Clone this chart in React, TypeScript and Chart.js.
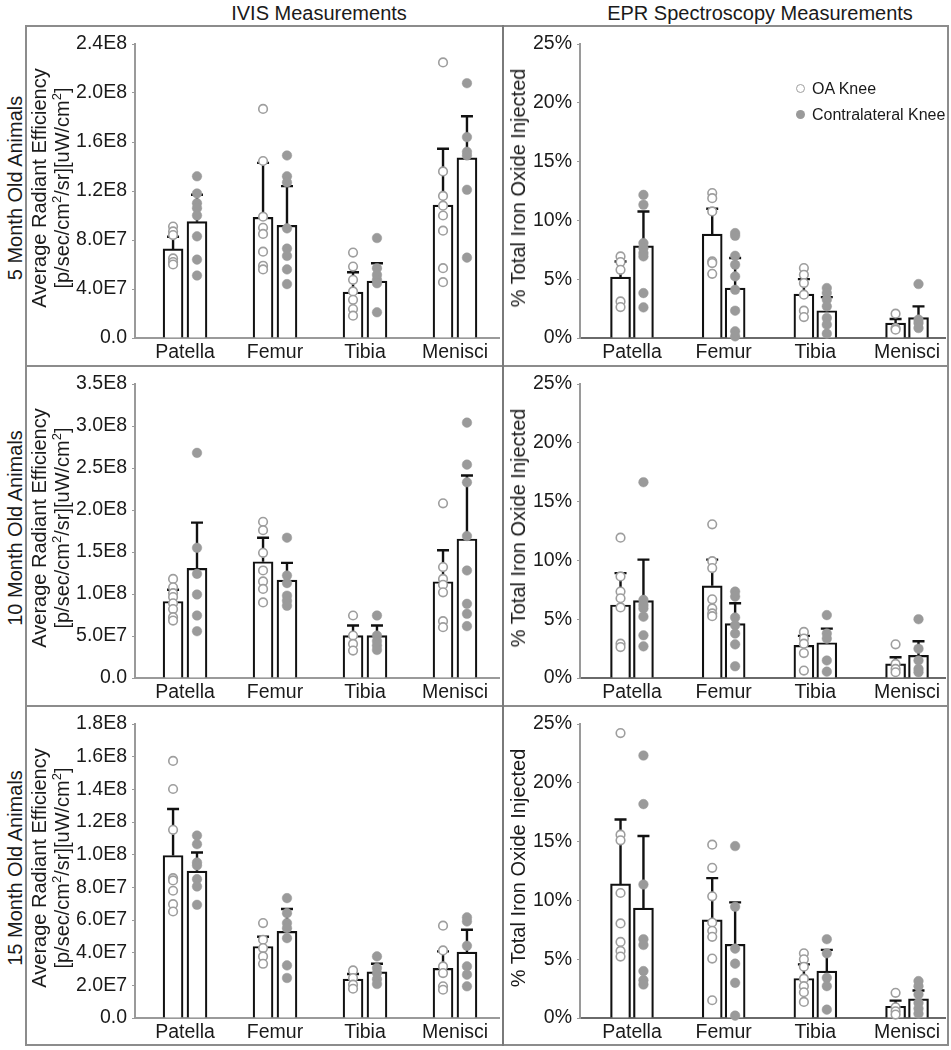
import React, { useEffect, useRef } from "react";
import { Chart, registerables } from "chart.js";
Chart.register(...registerables);

const categories = ["Patella", "Femur", "Tibia", "Menisci"];
const rowLabels = ["5 Month Old Animals", "10 Month Old Animals", "15 Month Old Animals"];
const columnTitles = ["IVIS Measurements", "EPR Spectroscopy Measurements"];
const legendLabels = ["OA Knee", "Contralateral Knee"];

// y axis ranges (IVIS rows) and EPR axis
const ivisMax = [2.4e8, 3.5e8, 1.8e8];
const ivisStep = [4e7, 5e7, 2e7];
const eprMax = 25;
const eprStep = 5;

// ---- 5 month IVIS ----
const ivis5OaMean = [7.27e7, 9.85e7, 3.75e7, 1.085e8];
const ivis5OaSd = [1.0e7, 4.45e7, 1.62e7, 4.6e7];
const ivis5CtMean = [9.5e7, 9.2e7, 4.65e7, 1.47e8];
const ivis5CtSd = [2.2e7, 3.2e7, 1.45e7, 3.4e7];
const ivis5OaPts = [
  [9.1e7, 8.7e7, 8.4e7, 6.5e7, 6.2e7, 6.0e7],
  [1.87e8, 1.445e8, 9.9e7, 9.0e7, 8.5e7, 7.05e7, 5.9e7, 5.6e7],
  [6.97e7, 5.83e7, 4.75e7, 3.8e7, 3.12e7, 2.36e7, 1.82e7],
  [2.25e8, 1.36e8, 1.16e8, 1.08e8, 1.0e8, 8.76e7, 5.7e7, 4.56e7],
];
const ivis5CtPts = [
  [1.32e8, 1.18e8, 1.1e8, 1.06e8, 1.0e8, 8.3e7, 6.4e7, 5.1e7],
  [1.49e8, 1.32e8, 1.27e8, 8.95e7, 7.3e7, 6.7e7, 5.6e7, 4.4e7],
  [8.16e7, 5.7e7, 5.15e7, 4.75e7, 4.47e7, 2.1e7],
  [2.08e8, 1.64e8, 1.52e8, 1.49e8, 1.21e8, 6.56e7],
];

// ---- 5 month EPR (%) ----
const epr5OaMean = [5.18, 8.83, 3.74, 1.27];
const epr5OaSd = [1.33, 2.16, 1.27, 0.34];
const epr5CtMean = [7.84, 4.25, 2.32, 1.73];
const epr5CtSd = [2.92, 2.55, 1.16, 0.96];
const epr5OaPts = [
  [6.94, 6.46, 5.8, 3.11, 2.63],
  [12.32, 11.89, 10.76, 6.51, 6.37, 5.46],
  [5.95, 5.38, 4.67, 3.68, 2.32, 1.78],
  [2.07, 0.85, 0.71],
];
const epr5CtPts = [
  [12.17, 11.33, 8.07, 7.64, 7.22, 6.94, 3.82, 2.6],
  [8.92, 8.69, 6.99, 6.23, 5.24, 4.1, 2.32, 0.57, 0.14],
  [4.25, 3.82, 3.26, 2.69, 1.7, 1.13, 0.37],
  [4.59, 1.56, 1.27, 0.85],
];

// ---- 10 month IVIS ----
const ivis10OaMean = [9.11e7, 1.384e8, 5.05e7, 1.146e8];
const ivis10OaSd = [1.39e7, 2.86e7, 1.2e7, 3.74e7];
const ivis10CtMean = [1.305e8, 1.165e8, 5.05e7, 1.655e8];
const ivis10CtSd = [5.45e7, 2.05e7, 1.2e7, 7.55e7];
const ivis10OaPts = [
  [1.18e8, 1.08e8, 1.01e8, 9.63e7, 8.9e7, 8.2e7, 7.24e7, 6.84e7],
  [1.86e8, 1.76e8, 1.49e8, 1.28e8, 1.15e8, 1.06e8, 9.0e7],
  [7.44e7, 5.05e7, 4.06e7, 3.26e7],
  [2.08e8, 1.32e8, 1.18e8, 1.11e8, 1.02e8, 6.76e7, 6.05e7],
];
const ivis10CtPts = [
  [2.68e8, 1.55e8, 1.24e8, 9.94e7, 7.44e7, 5.57e7],
  [1.67e8, 1.22e8, 1.13e8, 9.8e7, 9.2e7, 8.6e7],
  [7.44e7, 5.05e7, 4.4e7, 3.86e7, 3.34e7],
  [3.04e8, 2.54e8, 2.33e8, 1.69e8, 1.28e8, 8.83e7, 7.64e7, 6.17e7],
];

// ---- 10 month EPR (%) ----
const epr10OaMean = [6.21, 7.84, 2.77, 1.2];
const epr10OaSd = [2.71, 2.23, 0.81, 0.57];
const epr10CtMean = [6.58, 4.63, 3.0, 1.92];
const epr10CtSd = [3.49, 1.72, 1.2, 1.2];
const epr10OaPts = [
  [11.93, 8.64, 7.35, 6.78, 6.0, 2.92, 2.63],
  [13.07, 9.93, 9.35, 6.69, 5.92, 5.49, 5.26],
  [3.92, 3.35, 2.92, 2.12, 0.63],
  [2.86, 1.2, 0.77, 0.49],
];
const epr10CtPts = [
  [16.65, 6.64, 6.21, 5.92, 5.21, 3.63, 2.69],
  [7.35, 6.92, 5.15, 4.49, 3.78, 2.86, 1.0],
  [5.35, 3.78, 3.35, 1.49, 0.54],
  [5.0, 2.49, 1.49, 0.77, 0.49],
];

// ---- 15 month IVIS ----
const ivis15OaMean = [9.95e7, 4.38e7, 2.38e7, 3.04e7];
const ivis15OaSd = [2.85e7, 5.9e6, 3.1e6, 1.04e7];
const ivis15CtMean = [8.99e7, 5.3e7, 2.83e7, 4.04e7];
const ivis15CtSd = [1.14e7, 1.37e7, 4.9e6, 1.36e7];
const ivis15OaPts = [
  [1.574e8, 1.402e8, 1.152e8, 8.56e7, 8.42e7, 7.79e7, 6.97e7, 6.52e7],
  [5.81e7, 4.79e7, 4.28e7, 3.77e7, 3.32e7],
  [2.91e7, 2.45e7, 2.04e7, 1.79e7],
  [5.65e7, 4.14e7, 3.16e7, 2.75e7, 1.94e7, 1.73e7],
];
const ivis15CtPts = [
  [1.117e8, 1.064e8, 9.52e7, 9.34e7, 8.5e7, 8.05e7, 6.93e7],
  [7.34e7, 6.42e7, 5.81e7, 5.5e7, 4.89e7, 3.22e7, 2.45e7],
  [3.77e7, 3.06e7, 2.75e7, 2.38e7, 2.08e7],
  [6.16e7, 5.91e7, 4.42e7, 3.16e7, 2.65e7, 1.94e7],
];

// ---- 15 month EPR (%) ----
const epr15OaMean = [11.4, 8.35, 3.36, 1.0];
const epr15OaSd = [5.48, 3.54, 1.2, 0.48];
const epr15CtMean = [9.35, 6.27, 3.99, 1.62];
const epr15CtSd = [6.13, 3.56, 1.8, 0.72];
const epr15OaPts = [
  [24.23, 15.59, 15.11, 10.63, 8.04, 6.47, 5.7, 5.22],
  [14.74, 12.77, 10.35, 8.12, 7.41, 6.9, 5.05, 1.51],
  [5.5, 4.99, 4.36, 3.34, 2.71, 2.19, 1.37],
  [2.14, 0.91, 0.57, 0.29],
];
const epr15CtPts = [
  [22.32, 18.19, 11.35, 6.7, 6.21, 3.99, 3.22, 2.85],
  [14.62, 9.46, 5.9, 4.62, 2.99, 0.2],
  [6.7, 5.5, 3.42, 2.71, 0.71],
  [3.14, 2.71, 2.0, 1.28, 0.8, 0.37],
];

const FONT = '"Liberation Sans", Arial, sans-serif';
const TEXT = "#1a1a1a";
const FRAME = "#8c8c8c";

const fmtSci = (v: number) => {
  if (Math.abs(v) < 1e-6) return "0.0";
  const e = Math.floor(Math.log10(v) + 1e-9);
  const m = v / Math.pow(10, e);
  return m.toFixed(1) + "E" + e;
};
const fmtPct = (v: number) => Math.round(v) + "%";

const errorBarPlugin = {
  id: "errbars",
  afterDatasetDraw(chart: any, args: any) {
    const ds = chart.data.datasets[args.index];
    if (!ds.errs) return;
    const ctx = chart.ctx;
    const ys = chart.scales.y;
    ctx.save();
    ctx.strokeStyle = "#111";
    ctx.lineWidth = 2.4;
    args.meta.data.forEach((el: any, i: number) => {
      const v = ds.data[i].y;
      const e = ds.errs[i];
      const x = el.x;
      const y0 = ys.getPixelForValue(v);
      const y1 = ys.getPixelForValue(v + e);
      ctx.beginPath();
      ctx.moveTo(x, y0);
      ctx.lineTo(x, y1);
      ctx.moveTo(x - 6, y1);
      ctx.lineTo(x + 6, y1);
      ctx.stroke();
    });
    ctx.restore();
  },
};

type PanelProps = {
  left: number;
  top: number;
  width: number;
  oaMean: number[];
  oaSd: number[];
  ctMean: number[];
  ctSd: number[];
  oaPts: number[][];
  ctPts: number[][];
  yMax: number;
  yStep: number;
  fmt: (v: number) => string;
  yAxisWidth: number;
  xMin: number;
  xMax: number;
  padRight: number;
  pairOffset: number;
  xAxisColor: string;
};

function Panel(p: PanelProps) {
  const ref = useRef<HTMLCanvasElement>(null);
  useEffect(() => {
    const bars = (means: number[], sign: number) =>
      means.map((m, i) => ({ x: i + sign * p.pairOffset, y: m }));
    const pts = (groups: number[][], sign: number) =>
      groups.flatMap((g, i) => g.map((v) => ({ x: i + sign * p.pairOffset, y: v })));
    const chart = new Chart(ref.current as HTMLCanvasElement, {
      type: "bar",
      data: {
        datasets: [
          {
            type: "scatter",
            data: pts(p.oaPts, -1),
            pointRadius: 4.3,
            pointBackgroundColor: "#ffffff",
            pointBorderColor: "#9e9e9e",
            pointBorderWidth: 1.6,
            order: 0,
            clip: false,
          } as any,
          {
            type: "scatter",
            data: pts(p.ctPts, 1),
            pointRadius: 4.8,
            pointBackgroundColor: "#9a9a9a",
            pointBorderColor: "#9a9a9a",
            pointBorderWidth: 0.5,
            order: 0,
            clip: false,
          } as any,
          {
            type: "bar",
            data: bars(p.oaMean, -1),
            errs: p.oaSd,
            backgroundColor: "#ffffff",
            borderColor: "#111111",
            borderWidth: 2.2,
            barThickness: 20,
            grouped: false,
            order: 1,
          } as any,
          {
            type: "bar",
            data: bars(p.ctMean, 1),
            errs: p.ctSd,
            backgroundColor: "#ffffff",
            borderColor: "#111111",
            borderWidth: 2.2,
            barThickness: 20,
            grouped: false,
            order: 1,
          } as any,
        ],
      },
      options: {
        animation: false,
        responsive: false,
        maintainAspectRatio: false,
        layout: { padding: { top: 18, right: p.padRight, bottom: 0, left: 0 }, autoPadding: false } as any,
        plugins: { legend: { display: false }, tooltip: { enabled: false } },
        scales: {
          x: {
            type: "linear",
            offset: false,
            bounds: "ticks",
            min: p.xMin,
            max: p.xMax,
            afterBuildTicks: (s: any) => {
              s.ticks = categories.map((_, i) => ({ value: i }));
            },
            afterFit: (s: any) => {
              s.height = 28;
            },
            grid: { display: false, drawTicks: false, offset: false },
            border: { display: true, color: p.xAxisColor, width: 2 },
            ticks: {
              callback: (v: any) => categories[v as number] ?? "",
              color: TEXT,
              font: { family: FONT, size: 19.5 },
              padding: 3,
              maxRotation: 0,
              autoSkip: false,
            },
          },
          y: {
            type: "linear",
            min: 0,
            max: p.yMax,
            afterFit: (s: any) => {
              s.width = p.yAxisWidth;
            },
            grid: { drawOnChartArea: false, drawTicks: true, tickLength: 3, color: "#9a9a9a" },
            border: { display: true, color: "#9a9a9a", width: 2 },
            ticks: {
              stepSize: p.yStep,
              callback: (v: any) => p.fmt(Number(v)),
              color: TEXT,
              font: { family: FONT, size: 19.5 },
              padding: 5,
            },
          },
        },
      } as any,
      plugins: [errorBarPlugin],
    });
    return () => chart.destroy();
  }, []);
  return (
    <canvas
      ref={ref}
      width={p.width}
      height={340}
      style={{ position: "absolute", left: p.left, top: p.top, width: p.width, height: 340 }}
    />
  );
}

const rotStyle = (cx: number, cy: number, size: number): React.CSSProperties => ({
  position: "absolute",
  left: cx,
  top: cy,
  transform: "translate(-50%, -50%) rotate(-90deg)",
  whiteSpace: "nowrap",
  fontFamily: FONT,
  fontSize: size,
  color: TEXT,
  lineHeight: 1,
});

export default function App() {
  const rowTops = [26, 366, 706];
  const ivisRows = [
    { oaMean: ivis5OaMean, oaSd: ivis5OaSd, ctMean: ivis5CtMean, ctSd: ivis5CtSd, oaPts: ivis5OaPts, ctPts: ivis5CtPts },
    { oaMean: ivis10OaMean, oaSd: ivis10OaSd, ctMean: ivis10CtMean, ctSd: ivis10CtSd, oaPts: ivis10OaPts, ctPts: ivis10CtPts },
    { oaMean: ivis15OaMean, oaSd: ivis15OaSd, ctMean: ivis15CtMean, ctSd: ivis15CtSd, oaPts: ivis15OaPts, ctPts: ivis15CtPts },
  ];
  const eprRows = [
    { oaMean: epr5OaMean, oaSd: epr5OaSd, ctMean: epr5CtMean, ctSd: epr5CtSd, oaPts: epr5OaPts, ctPts: epr5CtPts },
    { oaMean: epr10OaMean, oaSd: epr10OaSd, ctMean: epr10CtMean, ctSd: epr10CtSd, oaPts: epr10OaPts, ctPts: epr10CtPts },
    { oaMean: epr15OaMean, oaSd: epr15OaSd, ctMean: epr15CtMean, ctSd: epr15CtSd, oaPts: epr15OaPts, ctPts: epr15CtPts },
  ];
  return (
    <div style={{ position: "absolute", left: 0, top: 0, width: 951, height: 1050, background: "#fff", overflow: "hidden" }}>
      {rowTops.map((t, r) => (
        <React.Fragment key={r}>
          <Panel
            left={26}
            top={t}
            width={477}
            {...ivisRows[r]}
            yMax={ivisMax[r]}
            yStep={ivisStep[r]}
            fmt={fmtSci}
            yAxisWidth={109}
            xMin={-0.556}
            xMax={3.489}
            padRight={4}
            pairOffset={0.133}
            xAxisColor="#9a9a9a"
          />
          <Panel
            left={503}
            top={t}
            width={445}
            {...eprRows[r]}
            yMax={eprMax}
            yStep={eprStep}
            fmt={fmtPct}
            yAxisWidth={77}
            xMin={-0.567}
            xMax={3.414}
            padRight={3}
            pairOffset={0.125}
            xAxisColor="#6a6a6a"
          />
          <div style={rotStyle(15, t + 162, 20)}>{rowLabels[r]}</div>
          <div style={rotStyle(39, t + 162, 20)}>Average Radiant Efficiency</div>
          <div style={rotStyle(62, t + 162, 20)}>
            [p/sec/cm<sup style={{ fontSize: 13, lineHeight: 0 }}>2</sup>/sr][uW/cm
            <sup style={{ fontSize: 13, lineHeight: 0 }}>2</sup>]
          </div>
          <div style={rotStyle(518, t + 162, 20)}>% Total Iron Oxide Injected</div>
        </React.Fragment>
      ))}
      {/* frames */}
      <div style={{ position: "absolute", left: 25, top: 25, width: 924, height: 1021, border: `2px solid ${FRAME}`, boxSizing: "border-box" }} />
      <div style={{ position: "absolute", left: 25, top: 365, width: 924, height: 2, background: FRAME }} />
      <div style={{ position: "absolute", left: 25, top: 705, width: 924, height: 2, background: FRAME }} />
      <div style={{ position: "absolute", left: 502, top: 25, width: 2, height: 1021, background: "#7a7a7a" }} />
      {/* column titles */}
      <div style={{ position: "absolute", left: 319, top: 13, transform: "translate(-50%, -50%)", whiteSpace: "nowrap", fontFamily: FONT, fontSize: 20, color: TEXT, lineHeight: 1 }}>
        {columnTitles[0]}
      </div>
      <div style={{ position: "absolute", left: 760, top: 13, transform: "translate(-50%, -50%)", whiteSpace: "nowrap", fontFamily: FONT, fontSize: 20, color: TEXT, lineHeight: 1 }}>
        {columnTitles[1]}
      </div>
      {/* legend */}
      <div style={{ position: "absolute", left: 796, top: 84, width: 9, height: 9, borderRadius: "50%", border: "1.5px solid #9e9e9e", boxSizing: "border-box", background: "#fff" }} />
      <div style={{ position: "absolute", left: 812, top: 89, transform: "translateY(-50%)", whiteSpace: "nowrap", fontFamily: FONT, fontSize: 16, color: TEXT, lineHeight: 1 }}>
        {legendLabels[0]}
      </div>
      <div style={{ position: "absolute", left: 796, top: 110, width: 9, height: 9, borderRadius: "50%", background: "#9a9a9a" }} />
      <div style={{ position: "absolute", left: 812, top: 115, transform: "translateY(-50%)", whiteSpace: "nowrap", fontFamily: FONT, fontSize: 16, color: TEXT, lineHeight: 1 }}>
        {legendLabels[1]}
      </div>
    </div>
  );
}
